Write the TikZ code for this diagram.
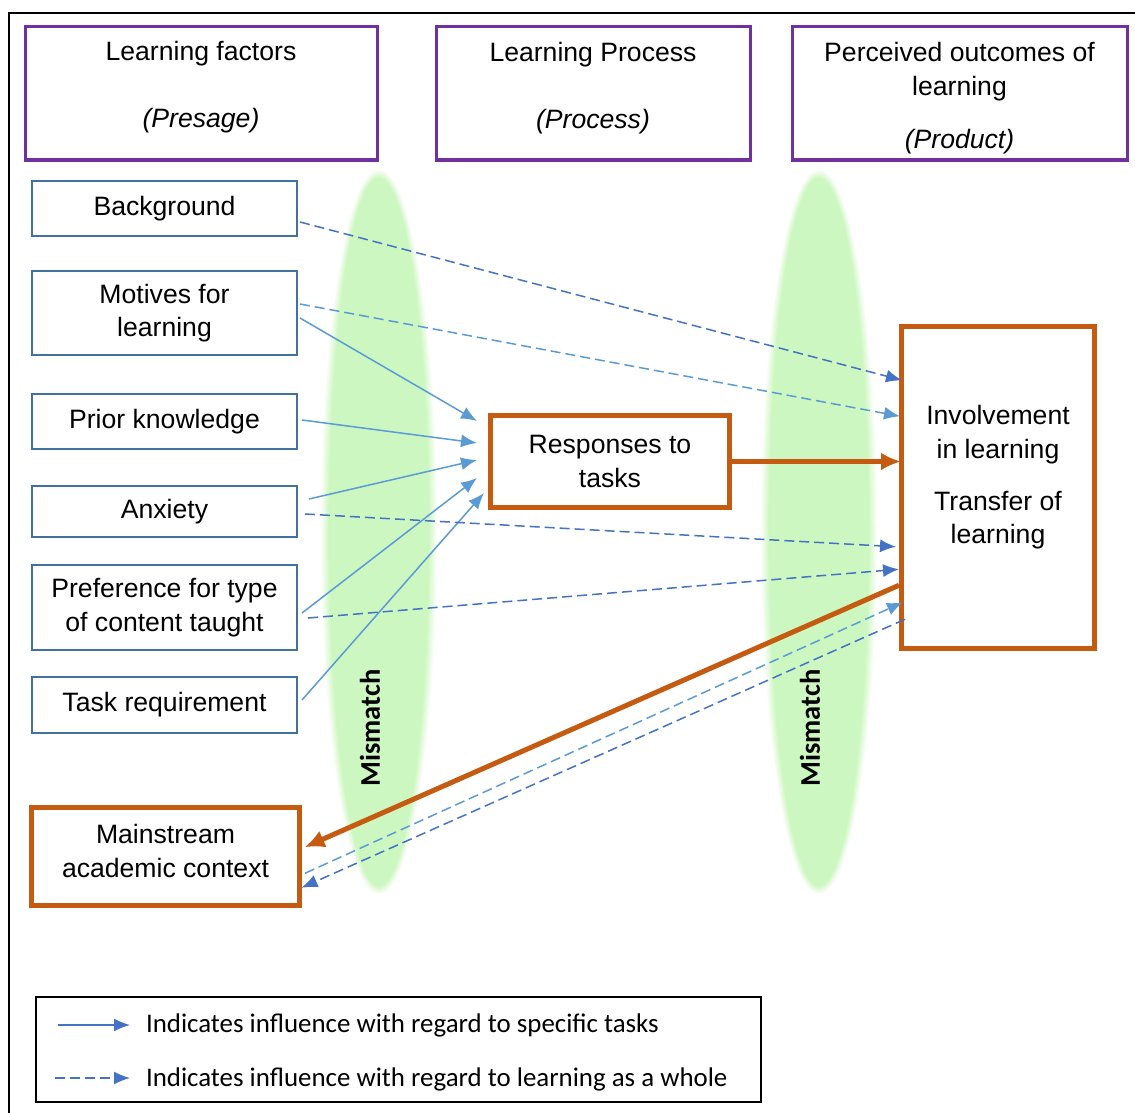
\documentclass[tikz,border=0pt]{standalone}
\usepackage{fontspec}
\setmainfont{Liberation Sans}
\newfontfamily\calib{Carlito}
\usetikzlibrary{arrows.meta,calc}
\definecolor{mgreen}{RGB}{205,247,192}
\definecolor{morange}{RGB}{197,90,17}
\definecolor{mpurple}{RGB}{112,48,160}
\definecolor{mboxblue}{RGB}{65,113,156}
\definecolor{lblue}{RGB}{91,155,213}
\definecolor{dblue}{RGB}{68,114,196}
\begin{document}
\begin{tikzpicture}[x=1pt,y=-1pt,
  every node/.style={font=\fontsize{26.6}{33.5}\selectfont, inner sep=0pt, outer sep=0pt, align=center},
  headbox/.style={draw=mpurple, line width=3pt, minimum height=133pt},
  factor/.style={draw=mboxblue, line width=1.3pt, minimum width=265pt},
  obox/.style={draw=morange, line width=5pt},
  solidarr/.style={draw=lblue, line width=1.5pt, -{Latex[length=16pt,width=13pt]}},
  dasharr/.style={line width=1.5pt, dash pattern=on 10pt off 5pt, -{Latex[length=16pt,width=13pt]}},
  oarr/.style={draw=morange, line width=5pt, -{Latex[length=20pt,width=18pt]}},
  mism/.style={font=\calib\bfseries\fontsize{28.5}{30}\selectfont, rotate=90},
  legtext/.style={font=\calib\fontsize{26.9}{30}\selectfont, anchor=west}
]
\fill[white] (0,0) rectangle (1135,1113);
\useasboundingbox (0,0) rectangle (1135,1113);
\draw[line width=1.5pt] (1135,13) -- (9,13) -- (9,1113);

% green ellipses
\foreach \cx in {379,819}{
  \foreach \k in {8,...,0}{
    \pgfmathtruncatemacro\pc{100-\k*11}
    \fill[mgreen!\pc!white] (\cx,532) ellipse [x radius={50+\k}, y radius={354+\k}];
  }
}
\node[mism] (mm1) at (370,728) {Mismatch};
\node[mism] (mm2) at (810,728) {Mismatch};

% header boxes
\node[headbox, minimum width=352pt] (h1) at (201,93.5) {};
\node (h1t) at (201,87.5) {Learning factors\\[33.5pt]\textit{(Presage)}};
\node[headbox, minimum width=314pt] (h2) at (593,93.5) {};
\node (h2t) at (593,88.5) {Learning Process\\[33.5pt]\textit{(Process)}};
\node[headbox, minimum width=335pt] (h3) at (959.5,93.5) {};
\node (h3t) at (959.5,98) {Perceived outcomes of\\learning\\[19.5pt]\textit{(Product)}};

% factor boxes
\node[factor, minimum height=55pt] (bg) at (164.5,208.5) {Background};
\node[factor, minimum height=84pt] (mot) at (164.5,313) {Motives for\\learning};
\node[factor, minimum height=55pt] (prior) at (164.5,421.5) {Prior knowledge};
\node[factor, minimum height=51pt] (anx) at (164.5,511.5) {Anxiety};
\node[factor, minimum height=85pt] (pref) at (164.5,607.5) {Preference for type\\of content taught};
\node[factor, minimum height=56pt] (task) at (164.5,705) {Task requirement};

% orange boxes
\node[obox, minimum width=239pt, minimum height=92pt] (resp) at (610,461.5) {Responses to\\tasks};
\node[obox, minimum width=193.5pt, minimum height=321.5pt] (inv) at (997.75,487.25) {};
\node (invt) at (998,477.5) {Involvement\\in learning\\[18.5pt]Transfer of\\learning};
\node[obox, minimum width=268pt, minimum height=98.5pt] (main) at (165.5,856.25) {};
\node (maint) at (165.5,851) {Mainstream\\academic context};

% solid arrows
\draw[solidarr] ($(mot.east)+(3,5)$) -- ($(resp.west)+(-13.5,-40.5)$);
\draw[solidarr] ($(prior.east)+(5,-1.5)$) -- ($(resp.west)+(-13.5,-18.5)$);
\draw[solidarr] ($(anx.east)+(12,-12.5)$) -- ($(resp.west)+(-13.5,-1.5)$);
\draw[solidarr] ($(pref.east)+(5,5.5)$) -- ($(resp.west)+(-13.5,16.5)$);
\draw[solidarr] ($(task.east)+(5,-5)$) -- ($(resp.west)+(-6.5,31.5)$);

% dashed arrows
\draw[dasharr, draw=dblue] ($(bg.east)+(3,13.5)$) -- ($(inv.west)+(1,-107)$);
\draw[dasharr, draw=lblue] ($(mot.east)+(3,-9)$) -- ($(inv.west)+(-1,-71)$);
\draw[dasharr, draw=dblue] ($(anx.east)+(8,2.5)$) -- ($(inv.west)+(-5,59.5)$);
\draw[dasharr, draw=dblue] ($(pref.east)+(11,10.5)$) -- ($(inv.west)+(-2,82)$);
\draw[dasharr, draw=lblue] ($(main.east)+(5.5,17)$) -- ($(inv.west)+(2,115)$);
\draw[dasharr, draw=dblue] ($(inv.west)+(4,132)$) -- ($(main.east)+(2,31.5)$);

% orange arrows
\draw[oarr] (resp.east) -- (resp.east -| inv.west);
\draw[oarr] ($(inv.west)+(-2,98)$) -- ($(main.east)+(5,-9)$);

% legend
\node[draw=black, line width=2.5pt, minimum width=725pt, minimum height=105pt] (leg) at (398.5,1049.5) {};
\coordinate (l1a) at (58,1025);
\coordinate (l1b) at (130,1025);
\coordinate (l2a) at (55,1078);
\coordinate (l2b) at (130,1078);
\draw[solidarr, draw=dblue] (l1a) -- (l1b);
\draw[dasharr, draw=dblue] (l2a) -- (l2b);
\node[legtext] (lt1) at (146,1025) {Indicates influence with regard to specific tasks};
\node[legtext] (lt2) at (146,1079) {Indicates influence with regard to learning as a whole};
\end{tikzpicture}
\end{document}
